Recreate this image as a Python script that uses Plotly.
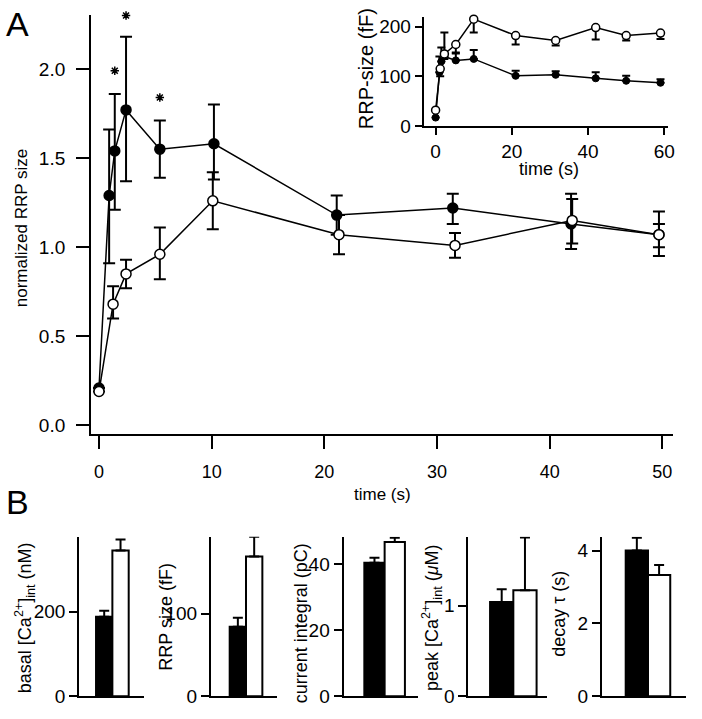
import plotly.graph_objects as go

W, H = 702, 719
FONT = "Liberation Sans, Arial, sans-serif"

# ---------------- Panel A (main) data ----------------
a_filled_t = [0, 0.9, 1.4, 2.4, 5.4, 10.2, 21.1, 31.4, 41.9, 49.7]
a_filled_y = [0.21, 1.29, 1.54, 1.77, 1.55, 1.58, 1.18, 1.22, 1.13, 1.07]
a_filled_err_up = [0, 0.37, 0.32, 0.41, 0.16, 0.22, 0.11, 0.08, 0.17, 0.13]
a_filled_err_dn = [0, 0.38, 0.33, 0.40, 0.16, 0.20, 0.11, 0.09, 0.14, 0.12]

a_open_t = [0, 1.25, 2.4, 5.4, 10.1, 21.3, 31.6, 42.0, 49.7]
a_open_y = [0.19, 0.68, 0.85, 0.96, 1.26, 1.07, 1.01, 1.15, 1.07]
a_open_err_up = [0, 0.10, 0.08, 0.15, 0.16, 0.11, 0.07, 0.12, 0.06]
a_open_err_dn = [0, 0.08, 0.08, 0.14, 0.16, 0.11, 0.07, 0.13, 0.07]

star_t = [1.4, 2.4, 5.4]
star_y = [1.99, 2.30, 1.84]

a_xticks = [0, 10, 20, 30, 40, 50]
a_yticks = [0.0, 0.5, 1.0, 1.5, 2.0]

# ---------------- Inset data ----------------
in_filled_t = [0, 1, 1.5, 2.3, 5.3, 10, 21, 31.5, 42, 50, 59]
in_filled_y = [17, 108, 130, 140, 132, 135, 101, 103, 96, 91, 87]
in_filled_err_up = [0, 32, 28, 48, 16, 18, 10, 7, 12, 10, 7]

in_open_t = [0, 1.2, 2.3, 5.3, 10, 21, 31.5, 42, 50, 59]
in_open_y = [32, 115, 145, 164, 215, 182, 172, 198, 182, 187]
in_open_err_dn = [0, 15, 10, 18, 27, 18, 10, 24, 10, 12]

in_xticks = [0, 20, 40, 60]
in_yticks = [0, 100, 200]

# ---------------- Panel B data ----------------
b_basal_ca = [188, 344]
b_basal_ca_err = [14, 26]
b_rrp = [84, 169]
b_rrp_err = [11, 24]
b_current = [40.5, 46.8]
b_current_err = [1.5, 1.3]
b_peak_ca = [1.04, 1.17]
b_peak_ca_err = [0.14, 0.58]
b_decay = [4.0, 3.33]
b_decay_err = [0.35, 0.27]
b_colors = ["black", "white"]

b_titles = [
    "basal [Ca<sup>2+</sup>]<sub>int</sub> (nM)",
    "RRP size (fF)",
    "current integral (pC)",
    "peak [Ca<sup>2+</sup>]<sub>int</sub> (<i>μ</i>M)",
    "decay τ (s)",
]
b_ticks = [[0, 200], [0, 100], [0, 20, 40], [0, 1], [0, 2, 4]]


def fx(p):
    return p / W


def fy(p):
    return 1 - p / H


fig = go.Figure()

# ---- main A traces ----
fig.add_trace(go.Scatter(
    x=a_filled_t, y=a_filled_y, mode="lines+markers", cliponaxis=False,
    line=dict(color="black", width=1.5),
    marker=dict(size=10, color="black", line=dict(color="black", width=1.5)),
    error_y=dict(type="data", symmetric=False, array=a_filled_err_up,
                 arrayminus=a_filled_err_dn, color="black", thickness=2, width=6),
    xaxis="x", yaxis="y", showlegend=False))
fig.add_trace(go.Scatter(
    x=a_open_t, y=a_open_y, mode="lines+markers", cliponaxis=False,
    line=dict(color="black", width=1.5),
    marker=dict(size=10, color="white", line=dict(color="black", width=1.5)),
    error_y=dict(type="data", symmetric=False, array=a_open_err_up,
                 arrayminus=a_open_err_dn, color="black", thickness=2, width=6),
    xaxis="x", yaxis="y", showlegend=False))
fig.add_trace(go.Scatter(
    x=star_t, y=star_y, mode="markers", cliponaxis=False,
    marker=dict(symbol="asterisk-open", size=7, color="black",
                line=dict(color="black", width=1.5)),
    xaxis="x", yaxis="y", showlegend=False))

# ---- inset traces ----
fig.add_trace(go.Scatter(
    x=in_filled_t, y=in_filled_y, mode="lines+markers", cliponaxis=False,
    line=dict(color="black", width=1.5),
    marker=dict(size=7, color="black", line=dict(color="black", width=1)),
    error_y=dict(type="data", symmetric=False, array=in_filled_err_up,
                 arrayminus=[0] * len(in_filled_err_up), color="black", thickness=2, width=4),
    xaxis="x2", yaxis="y2", showlegend=False))
fig.add_trace(go.Scatter(
    x=in_open_t, y=in_open_y, mode="lines+markers", cliponaxis=False,
    line=dict(color="black", width=1.5),
    marker=dict(size=8, color="white", line=dict(color="black", width=1.5)),
    error_y=dict(type="data", symmetric=False, array=[0] * len(in_open_err_dn),
                 arrayminus=in_open_err_dn, color="black", thickness=2, width=4),
    xaxis="x2", yaxis="y2", showlegend=False))

# ---- B bar traces ----
b_vals = [b_basal_ca, b_rrp, b_current, b_peak_ca, b_decay]
b_errs = [b_basal_ca_err, b_rrp_err, b_current_err, b_peak_ca_err, b_decay_err]
for i, (vals, errs) in enumerate(zip(b_vals, b_errs)):
    n = i + 3
    fig.add_trace(go.Bar(
        x=[0, 1], y=vals, width=[1, 1], cliponaxis=False,
        marker=dict(color=b_colors, line=dict(color="black", width=2)),
        error_y=dict(type="data", symmetric=False, array=errs, arrayminus=[0, 0],
                     color="black", thickness=2, width=5),
        xaxis=f"x{n}", yaxis=f"y{n}", showlegend=False))

axis_common = dict(showline=True, linecolor="black", linewidth=2, showgrid=False,
                   zeroline=False, ticks="outside", tickcolor="black", tickwidth=2)

layout = dict(
    width=W, height=H, autosize=False,
    margin=dict(l=0, r=0, t=0, b=0),
    paper_bgcolor="white", plot_bgcolor="rgba(0,0,0,0)",
    font=dict(family=FONT, color="black"),
)

# main axes: left line x=92, right 680; top 15, bottom 441
px_per_s = (669 - 100) / 50
px_per_u = 181.0
layout["xaxis"] = dict(axis_common, domain=[fx(92), fx(680)], anchor="y",
                       range=[(92 - 100) / px_per_s, (680 - 100) / px_per_s],
                       tickvals=a_xticks, ticklen=13, ticklabelstandoff=7,
                       tickfont=dict(size=18, family=FONT))
layout["yaxis"] = dict(axis_common, domain=[fy(441), fy(15)], anchor="x",
                       range=[-(441 - 432) / px_per_u, (432 - 15) / px_per_u],
                       tickvals=a_yticks, tickformat=".1f", ticklen=13, ticklabelstandoff=7,
                       tickfont=dict(size=19, family=FONT))

# inset axes: left 428, right 675, top 17, bottom 128
in_px_s = 3.85
in_px_u = 0.505
layout["xaxis2"] = dict(axis_common, domain=[fx(428), fx(675)], anchor="y2",
                        range=[(428 - 440) / in_px_s, (675 - 440) / in_px_s],
                        tickvals=in_xticks, ticklen=7,
                        tickfont=dict(size=19, family=FONT))
layout["yaxis2"] = dict(axis_common, domain=[fy(128), fy(17)], anchor="x2",
                        range=[0, (128 - 17) / in_px_u],
                        tickvals=in_yticks, ticklen=7,
                        tickfont=dict(size=19, family=FONT))

# B panels
b_geom = [  # L, R, bar-left, bar-right, y-top value
    (80, 145, 97, 130, 377),
    (213, 280, 232, 265, 193),
    (347, 422, 368, 409, 48.4),
    (473, 553, 495, 542, 1.76),
    (608, 693, 632, 677, 4.38),
]
for i, (L, R, b0, b2, ytop) in enumerate(b_geom):
    n = i + 3
    w = (b2 - b0) / 2
    layout[f"xaxis{n}"] = dict(showline=True, linecolor="black", linewidth=2,
                               showgrid=False, zeroline=False, showticklabels=False,
                               ticks="", domain=[fx(L), fx(R)], anchor=f"y{n}",
                               range=[-0.5 - (b0 - L) / w, 1.5 + (R - b2) / w])
    layout[f"yaxis{n}"] = dict(axis_common, domain=[fy(707), fy(545)], anchor=f"x{n}",
                               range=[0, ytop], tickvals=b_ticks[i], ticklen=8,
                               tickfont=dict(size=19, family=FONT))

annotations = []


def ann(text, x, y, size, angle=0, xanchor="center", yanchor="middle"):
    annotations.append(dict(text=text, x=fx(x), y=fy(y), xref="paper", yref="paper",
                            showarrow=False, textangle=angle, xanchor=xanchor,
                            yanchor=yanchor, font=dict(size=size, family=FONT, color="black")))


ann("A", 4, 3, 34, xanchor="left", yanchor="top")
ann("B", 4, 488, 34, xanchor="left", yanchor="top")
ann("normalized RRP size", 22, 232, 17, angle=-90)
ann("time (s)", 386, 502, 17)
ann("RRP-size (fF)", 370, 70, 20, angle=-90)
ann("time (s)", 555, 172, 18)
b_title_pos = [(25, 627), (168, 626), (304, 633), (436, 627), (565, 623)]
for t, (x, y) in zip(b_titles, b_title_pos):
    ann(t, x, y, 18, angle=-90)

layout["annotations"] = annotations
fig.update_layout(**layout)

fig.write_html("out.html", config={"displayModeBar": False},
               post_script="document.body.style.margin='0';document.body.style.overflow='hidden';")
